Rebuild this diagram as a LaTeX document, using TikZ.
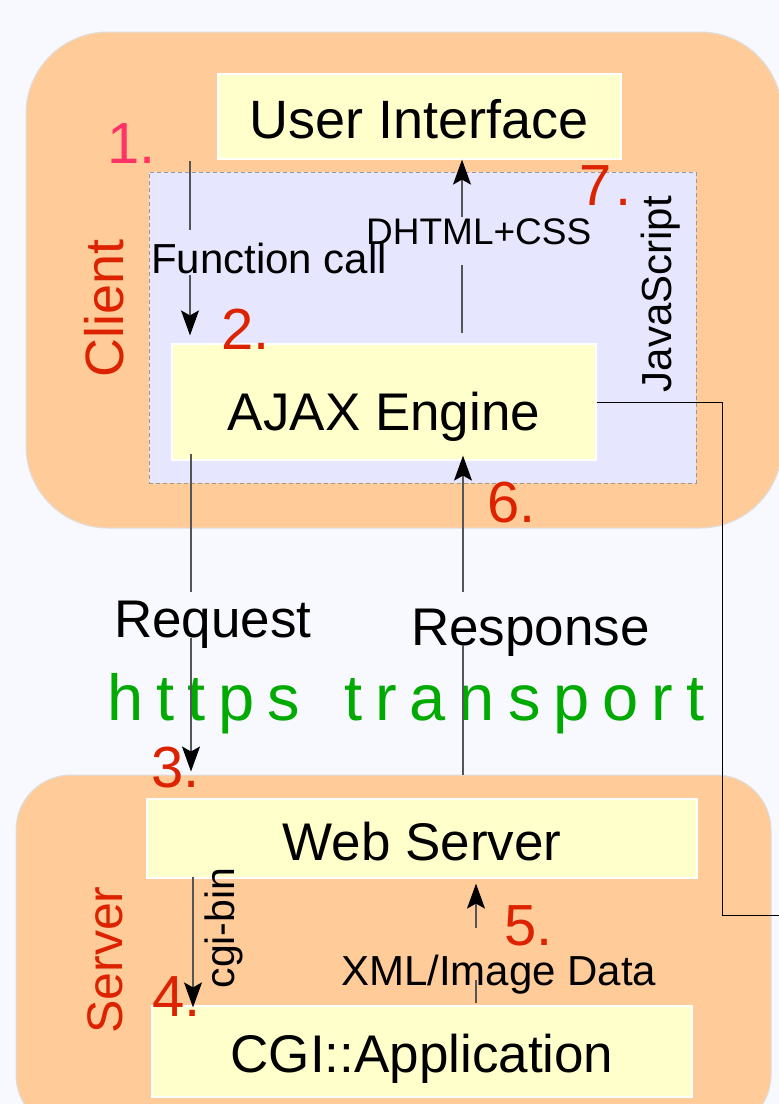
\documentclass[tikz,border=0pt]{standalone}
\usepackage{fontspec}
\setmainfont{Liberation Sans}
\usetikzlibrary{arrows.meta,calc}

\definecolor{pagebg}{HTML}{F8F8FF}
\definecolor{peach}{HTML}{FFCC99}
\definecolor{lav}{HTML}{E6E6FF}
\definecolor{cream}{HTML}{FFFFCC}
\definecolor{rimgray}{HTML}{DDDDDD}
\definecolor{dashgray}{HTML}{999999}
\definecolor{numred}{HTML}{DD2200}
\definecolor{numpink}{HTML}{FF3366}
\definecolor{wire}{HTML}{555555}
\definecolor{netgreen}{HTML}{00AA00}

\newcommand\fsz[1]{\fontsize{#1}{#1}\selectfont}
\newcommand\lsp{\kern13pt\relax}

\tikzset{
  container/.style={draw=rimgray, fill=peach, line width=1pt, inner sep=0pt},
  jsbox/.style={draw=dashgray, fill=lav, line width=0.9pt, dash pattern=on 4pt off 3pt, inner sep=0pt},
  ybox/.style={draw=white, fill=cream, line width=1.2pt, inner sep=0pt, font=\fsz{53}},
  flow/.style={draw=wire, line width=1.3pt, -{Stealth[length=25pt, width=18pt, inset=5pt, color=black]}},
  plainwire/.style={draw=black, line width=1pt},
  edgelabel/.style={inner sep=0pt, anchor=base west},
  rot/.style={rotate=90, anchor=base, inner sep=0pt},
  numtag/.style={anchor=base west, inner sep=0pt, text=numred, font=\fsz{58}},
  nettext/.style={anchor=base west, inner sep=0pt, text=netgreen, font=\fsz{65}},
}

\begin{document}
\begin{tikzpicture}[x=1pt, y=-1pt]
  % page
  \fill[pagebg] (0,0) rectangle (779,1104);
  \useasboundingbox (0,0) rectangle (779,1104);
  \clip (0,0) rectangle (779,1104);

  % client and server regions
  \node[container, rounded corners=82pt, minimum width=756pt, minimum height=496pt] (client) at (404,280) {};
  \node[container, rounded corners=55pt, minimum width=755pt, minimum height=355pt] (server) at (393.5,952.5) {};

  % JavaScript area
  \node[jsbox, minimum width=547pt, minimum height=311pt] (js) at (422.5,327.5) {};

  % components
  \node[ybox, font=\fsz{54}, minimum width=403pt, minimum height=85pt, text height=64pt, text depth=21pt] (ui) at (419.5,116.5) {User Interface\hspace{28pt}};
  \node[ybox, minimum width=424pt, minimum height=116pt, text height=86pt, text depth=30pt] (ajax) at (384,402) {AJAX Engine};
  \node[ybox, minimum width=550pt, minimum height=79pt, text height=61pt, text depth=18pt] (web) at (422,838.5) {Web Server};
  \node[ybox, minimum width=540pt, minimum height=91pt, text height=66pt, text depth=25pt] (cgi) at (422,1051.5) {CGI::Application};

  % transport caption (tracked lettering)
  \node[nettext] (transport) at (107,720)
    {h\lsp t\lsp t\lsp p\lsp s\lsp\ \lsp t\lsp r\lsp a\lsp n\lsp s\lsp p\lsp o\lsp r\lsp t};

  % connector labels; each box also marks the gap left in its connector
  \node[edgelabel, font=\fsz{42}, text height=43pt, text depth=2pt] (fclabel) at (151,273) {Function call};
  \node[edgelabel, font=\fsz{37}, text height=27pt, text depth=21pt] (dhlabel) at (366,244) {DHTML+CSS};
  \node[edgelabel, font=\fsz{53}, text height=45pt, text depth=1pt] (rqlabel) at (114,637) {Request};
  \node[edgelabel, font=\fsz{53}, text height=53pt, text depth=0pt] (rslabel) at (411,645) {Response};
  \node[edgelabel, font=\fsz{42}, text height=57pt, text depth=0pt] (xmlabel) at (341,985) {XML/Image Data};
  \node[rot, font=\fsz{41}] (cgilabel) at (234,928) {cgi-bin};
  \node[rot, font=\fsz{42}] (jslabel) at (671,294) {JavaScript};

  % connector end points
  \coordinate (fcTop) at (190,161);
  \coordinate (dhFoot) at (462,333);
  \coordinate (rqFoot) at (191,454);
  \coordinate (rsFoot) at (463,775);
  \coordinate (cgTop) at (193,877);
  \coordinate (xmFoot) at (476,1003);
  \coordinate (offRight) at (800,915);

  % connectors, interrupted where their labels sit
  \draw[flow, shorten >=8pt] (fcTop) -- (fcTop |- fclabel.north)
        (fcTop |- fclabel.south) -- (fcTop |- ajax.north);
  \draw[flow] (dhFoot) -- (dhFoot |- dhlabel.south)
        (dhFoot |- dhlabel.north) -- (dhFoot |- ui.south);
  \draw[flow, shorten >=3pt] (rqFoot) -- (rqFoot |- rqlabel.north)
        (rqFoot |- rqlabel.south) -- (rqFoot |- server.north);
  \draw[flow, shorten >=-5pt] (rsFoot) -- (rsFoot |- rslabel.south)
        (rsFoot |- rslabel.north) -- (rsFoot |- ajax.south);
  \draw[flow, shorten >=-2pt] (cgTop) -- (cgTop |- cgi.north);
  \draw[flow, shorten >=5pt] (xmFoot) -- ([yshift=5pt]xmFoot |- xmlabel.south)
        (xmFoot |- xmlabel.north) -- (xmFoot |- web.south);
  \draw[plainwire] (ajax.east) -- ++(126,0) |- (offRight);

  % region titles
  \node[rot, font=\fsz{54}, text=numred] (clientlabel) at (123,308) {Client};
  \node[rot, font=\fsz{50}, text=numred] (serverlabel) at (122,960) {Server};

  % step numbers
  \node[numtag, text=numpink] (n1) at (107,163) {1.};
  \node[numtag] (n2) at (221,349) {2.};
  \node[numtag] (n3) at (151.5,787) {3.};
  \node[numtag] (n4) at (152,1016) {4.};
  \node[numtag] (n5) at (504,945) {5.};
  \node[numtag] (n6) at (487,522) {6.};
  \node[numtag] (n7) at (579,205) {7\kern4pt.};
\end{tikzpicture}
\end{document}
